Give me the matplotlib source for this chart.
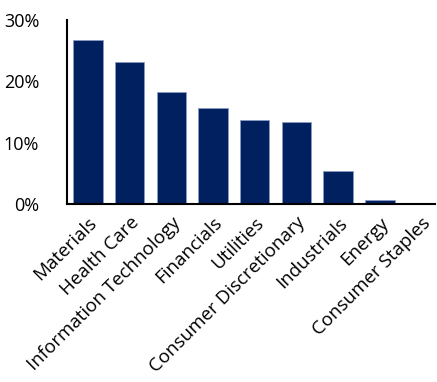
import matplotlib
matplotlib.use("Agg")
import matplotlib.pyplot as plt
from matplotlib.ticker import FuncFormatter

categories = ["Materials", "Health Care", "Information Technology", "Financials",
              "Utilities", "Consumer Discretionary", "Industrials", "Energy",
              "Consumer Staples"]
values = [26.8, 23.1, 18.3, 15.7, 13.7, 13.4, 5.3, 0.7, 0.0]
yticks = [0, 10, 20, 30]

plt.rcParams['font.family'] = ['Open Sans', 'DejaVu Sans']

fig = plt.figure(figsize=(4.37, 3.82), dpi=100)
ax = fig.add_axes([67/437, 1 - 204/382, (435-67)/437, (204-20)/382])

x = list(range(len(categories)))
ax.bar(x, values, width=0.705, color="#002060", edgecolor="#8a9cc4", linewidth=0.6)

ax.set_xlim(-0.5, 8.32)
ax.set_ylim(0, 30)
ax.set_yticks(yticks)
ax.yaxis.set_major_formatter(FuncFormatter(lambda v, p: f"{v:.0f}%"))
ax.set_xticks(x)
ax.set_xticklabels(categories, rotation=45, ha="right", rotation_mode="anchor")
ax.tick_params(axis="x", length=0, labelsize=13.5, colors="black", pad=7)
ax.tick_params(axis="y", length=0, labelsize=13, colors="black", pad=20)

for s in ["top", "right"]:
    ax.spines[s].set_visible(False)
for s in ["left", "bottom"]:
    ax.spines[s].set_linewidth(1.5)
    ax.spines[s].set_color("black")

fig.savefig("out.png", dpi=100)
